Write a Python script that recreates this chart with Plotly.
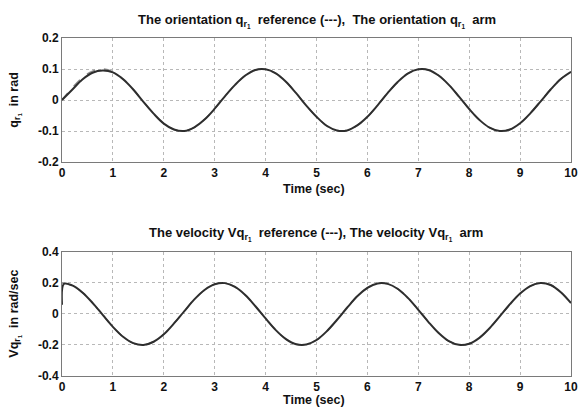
import plotly.graph_objects as go

t = [round(0.2 * i, 1) for i in range(51)]

q_ref = [0.0, 0.039, 0.072, 0.093, 0.1, 0.091, 0.068, 0.034, -0.006, -0.044,
         -0.076, -0.095, -0.1, -0.088, -0.063, -0.028, 0.012, 0.049, 0.079, 0.097,
         0.099, 0.086, 0.059, 0.022, -0.018, -0.054, -0.083, -0.098, -0.098, -0.082,
         -0.054, -0.017, 0.023, 0.059, 0.086, 0.099, 0.097, 0.079, 0.049, 0.011,
         -0.029, -0.064, -0.089, -0.1, -0.095, -0.075, -0.043, -0.005, 0.034, 0.068, 0.091]

t_arm = t
q_arm = [0.0, 0.033, 0.066, 0.088, 0.095, 0.089, 0.067, 0.034, -0.006, -0.044,
         -0.076, -0.095, -0.1, -0.088, -0.063, -0.028, 0.012, 0.049, 0.079, 0.097,
         0.099, 0.086, 0.059, 0.022, -0.018, -0.054, -0.083, -0.098, -0.098, -0.082,
         -0.054, -0.017, 0.023, 0.059, 0.086, 0.099, 0.097, 0.079, 0.049, 0.011,
         -0.029, -0.064, -0.089, -0.1, -0.095, -0.075, -0.043, -0.005, 0.034, 0.068, 0.091]

v_ref = [0.2, 0.184, 0.139, 0.072, -0.006, -0.083, -0.147, -0.188, -0.2, -0.179,
         -0.131, -0.061, 0.017, 0.094, 0.155, 0.192, 0.199, 0.174, 0.122, 0.05,
         -0.029, -0.104, -0.162, -0.195, -0.197, -0.168, -0.112, -0.039, 0.04, 0.114,
         0.169, 0.197, 0.194, 0.161, 0.102, 0.027, -0.052, -0.123, -0.175, -0.199,
         -0.192, -0.154, -0.092, -0.016, 0.063, 0.132, 0.18, 0.2, 0.187, 0.14, 0.07]

tv_arm = [0.0, 0.04] + t[1:]
v_arm = [0.06, 0.195] + v_ref[1:]

x_ticks = list(range(0, 11))
q_ticks = [-0.2, -0.1, 0, 0.1, 0.2]
q_tick_labels = ["-0.2", "-0.1", "0", "0.1", "0.2"]
v_ticks = [-0.4, -0.2, 0, 0.2, 0.4]
v_tick_labels = ["-0.4", "-0.2", "0", "0.2", "0.4"]

LINE = "#2e2e2e"
REF = "#8a8a8a"
GRID = "#b8b8b8"
AX = "#7a7a7a"
FONT = "Liberation Sans"

def b(s):
    return "<b>" + s + "</b>"

fig = go.Figure()
fig.add_trace(go.Scatter(x=t, y=q_ref, mode="lines", line=dict(color=REF, width=1.5, dash="dash", shape="spline"),
                         xaxis="x", yaxis="y", showlegend=False))
fig.add_trace(go.Scatter(x=t_arm, y=q_arm, mode="lines", line=dict(color=LINE, width=2, shape="spline"),
                         xaxis="x", yaxis="y", showlegend=False))
fig.add_trace(go.Scatter(x=t, y=v_ref, mode="lines", line=dict(color=REF, width=1.5, dash="dash", shape="spline"),
                         xaxis="x2", yaxis="y2", showlegend=False))
fig.add_trace(go.Scatter(x=tv_arm, y=v_arm, mode="lines", line=dict(color=LINE, width=2, shape="spline"),
                         xaxis="x2", yaxis="y2", showlegend=False))

axis_common = dict(showgrid=True, gridcolor=GRID, griddash="dot", gridwidth=1,
                   showline=True, linecolor=AX, linewidth=1, mirror=True,
                   zeroline=False, ticks="", ticklabeloverflow="allow",
                   tickfont=dict(family=FONT, size=12, color="#111"))

fig.update_layout(
    width=583, height=411,
    margin=dict(l=62, r=5, t=38, b=35),
    paper_bgcolor="white", plot_bgcolor="white",
    font=dict(family=FONT, color="#111"),
    xaxis=dict(domain=[0, 1], range=[0, 10], tickvals=x_ticks, ticktext=[b(str(v)) for v in x_ticks],
               anchor="y", **axis_common),
    yaxis=dict(domain=[0.633, 1], range=[-0.2, 0.2], tickvals=q_ticks,
               ticktext=[b(s) for s in q_tick_labels], anchor="x", **axis_common),
    xaxis2=dict(domain=[0, 1], range=[0, 10], tickvals=x_ticks, ticktext=[b(str(v)) for v in x_ticks],
                anchor="y2", **axis_common),
    yaxis2=dict(domain=[0, 0.367], range=[-0.4, 0.4], tickvals=v_ticks,
                ticktext=[b(s) for s in v_tick_labels], anchor="x2", **axis_common),
)

def ann(text, x, y, size=11, angle=0):
    fig.add_annotation(text=text, x=x, y=y, xref="paper", yref="paper", xanchor="center", yanchor="middle",
                       showarrow=False, textangle=angle, font=dict(family=FONT, size=size, color="#111"))

# paper coords from pixel positions
def px(xp):
    return (xp - 62) / 516

def py(yp):
    return (376 - yp) / 338

ann(b("The orientation q<sub>r<sub>1</sub></sub>  reference (---),  The orientation q<sub>r<sub>1</sub></sub>  arm"),
    px(321), py(21), size=13)
ann(b("The velocity Vq<sub>r<sub>1</sub></sub>  reference (---), The velocity Vq<sub>r<sub>1</sub></sub>  arm"),
    px(319), py(234), size=13)
ann(b("Time (sec)"), px(317), py(189), size=12.5)
ann(b("Time (sec)"), px(317), py(400), size=12.5)
ann(b("q<sub>r<sub>1</sub></sub>  in rad"), px(14), py(100), size=12.5, angle=-90)
ann(b("Vq<sub>r<sub>1</sub></sub>  in rad/sec"), px(14), py(314), size=12.5, angle=-90)

fig.write_html("out.html", config={"displayModeBar": False},
               post_script="document.body.style.margin='0';document.body.style.padding='0';")
